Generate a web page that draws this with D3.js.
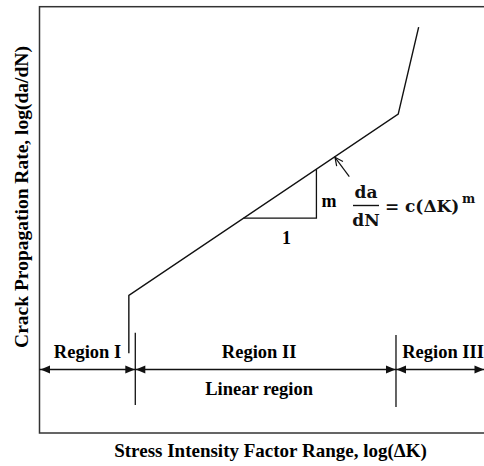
<!DOCTYPE html>
<html><head><meta charset="utf-8">
<script src="https://cdn.jsdelivr.net/npm/d3@7"></script>
<style>body{margin:0;background:#fff}svg{display:block}</style>
</head><body>
<script>
// Data (arbitrary log units)
const curveX = [20.1, 20.1, 80.7, 85.3];
const curveY = [18.7, 32.3, 74.8, 95.2];
const boundaries = [21.55, 80.2];
const regionNames = ["Region I", "Region II", "Region III"];
const regionCenters = [10.8, 49.4, 90.8];
const arrowLevel = 14.9;
const triX = [45.9, 62.3];
const xTitle = "Stress Intensity Factor Range, log(\u0394K)";
const yTitle = "Crack Propagation Rate, log(da/dN)";

const W = 484, H = 466;
const svg = d3.select("body").append("svg").attr("width", W).attr("height", H);
const x = d3.scaleLinear().domain([0, 100]).range([39.5, 484]);
const y = d3.scaleLinear().domain([0, 100]).range([433, 6.7]);
const col = "#111";
const serif = "'Liberation Serif','Times New Roman',serif";
const mathf = "'DejaVu Serif',serif";

// frame
svg.append("rect").attr("x", x(0)).attr("y", y(100)).attr("width", 600).attr("height", y(0) - y(100))
  .attr("fill", "none").attr("stroke", "#333").attr("stroke-width", 1.5);

// curve
const line = d3.line().x(d => x(d[0])).y(d => y(d[1]));
svg.append("path").datum(curveX.map((v, i) => [v, curveY[i]])).attr("d", line)
  .attr("fill", "none").attr("stroke", col).attr("stroke-width", 1.4);

// slope triangle
const slope = (curveY[2] - curveY[1]) / (curveX[2] - curveX[1]);
const yAt = v => curveY[1] + slope * (v - curveX[1]);
svg.append("path").attr("d", `M${x(triX[0])},${y(yAt(triX[0]))}H${x(triX[1])}V${y(yAt(triX[1]))}`)
  .attr("fill", "none").attr("stroke", col).attr("stroke-width", 1.3);
svg.append("text").attr("x", 286.5).attr("y", 243.5)
  .attr("text-anchor", "middle").attr("font-family", serif).attr("font-weight", "bold").attr("font-size", 18).text("1");
svg.append("text").attr("x", x(triX[1]) + 5).attr("y", 206.5)
  .attr("font-family", serif).attr("font-weight", "bold").attr("font-size", 18).text("m");

// boundary verticals
boundaries.forEach((b, i) => {
  svg.append("line").attr("x1", x(b)).attr("x2", x(b)).attr("y1", i ? 335 : 332.7).attr("y2", i ? 407 : 405)
    .attr("stroke", col).attr("stroke-width", 1.3);
});

// arrow line
const ay = y(arrowLevel);
svg.append("line").attr("x1", x(0)).attr("x2", x(100)).attr("y1", ay).attr("y2", ay)
  .attr("stroke", col).attr("stroke-width", 1.3);
function head(tipX, dir) {
  const L = 9.5, hw = 4;
  svg.append("path").attr("d", `M${tipX},${ay}L${tipX - dir * L},${ay - hw}L${tipX - dir * L},${ay + hw}Z`).attr("fill", col);
}
const edges = [0, ...boundaries, 100];
for (let i = 0; i < 3; i++) {
  head(x(edges[i]) + (i ? 0.5 : 1), -1);
  head(x(edges[i + 1]) - (i < 2 ? 0.5 : 0), 1);
}

// region labels
regionNames.forEach((n, i) => {
  svg.append("text").attr("x", x(regionCenters[i])).attr("y", 357.5).attr("text-anchor", "middle")
    .attr("font-family", serif).attr("font-weight", "bold").attr("font-size", 18.5).text(n);
});
svg.append("text").attr("x", x(regionCenters[1])).attr("y", 395).attr("text-anchor", "middle")
  .attr("font-family", serif).attr("font-weight", "bold").attr("font-size", 18.5).text("Linear region");

// pointer arrow
const px1 = 349.3, py1 = 176.7, px2 = 335, py2 = 157.3;
svg.append("line").attr("x1", px1).attr("y1", py1).attr("x2", px2).attr("y2", py2).attr("stroke", col).attr("stroke-width", 1.2);
{
  const ang = Math.atan2(py1 - py2, px1 - px2), L = 9, a = 0.45;
  svg.append("path").attr("d",
    `M${px2 + L * Math.cos(ang - a)},${py2 + L * Math.sin(ang - a)}L${px2},${py2}L${px2 + L * Math.cos(ang + a)},${py2 + L * Math.sin(ang + a)}`)
    .attr("fill", "none").attr("stroke", col).attr("stroke-width", 1.2);
}

// formula
const f = svg.append("g").attr("font-family", mathf).attr("font-weight", "bold").attr("fill", col);
f.append("text").attr("x", 366).attr("y", 198).attr("text-anchor", "middle").attr("font-size", 17).text("da");
f.append("line").attr("x1", 353).attr("x2", 379).attr("y1", 205.5).attr("y2", 205.5).attr("stroke", col).attr("stroke-width", 1.4);
f.append("text").attr("x", 366).attr("y", 225.5).attr("text-anchor", "middle").attr("font-size", 17).text("dN");
f.append("text").attr("x", 385).attr("y", 212).attr("font-size", 17).text("=");
f.append("text").attr("x", 405).attr("y", 212).attr("font-size", 17).text("c(\u0394K)");
f.append("text").attr("x", 462).attr("y", 202.5).attr("font-size", 12.5).text("m");

// axis titles
svg.append("text").attr("x", 270.5).attr("y", 457).attr("text-anchor", "middle")
  .attr("font-family", serif).attr("font-weight", "bold").attr("font-size", 19).text(xTitle);
svg.append("text").attr("transform", "translate(28,197) rotate(-90)").attr("text-anchor", "middle")
  .attr("font-family", serif).attr("font-weight", "bold").attr("font-size", 19.5).text(yTitle);
</script>
</body></html>
